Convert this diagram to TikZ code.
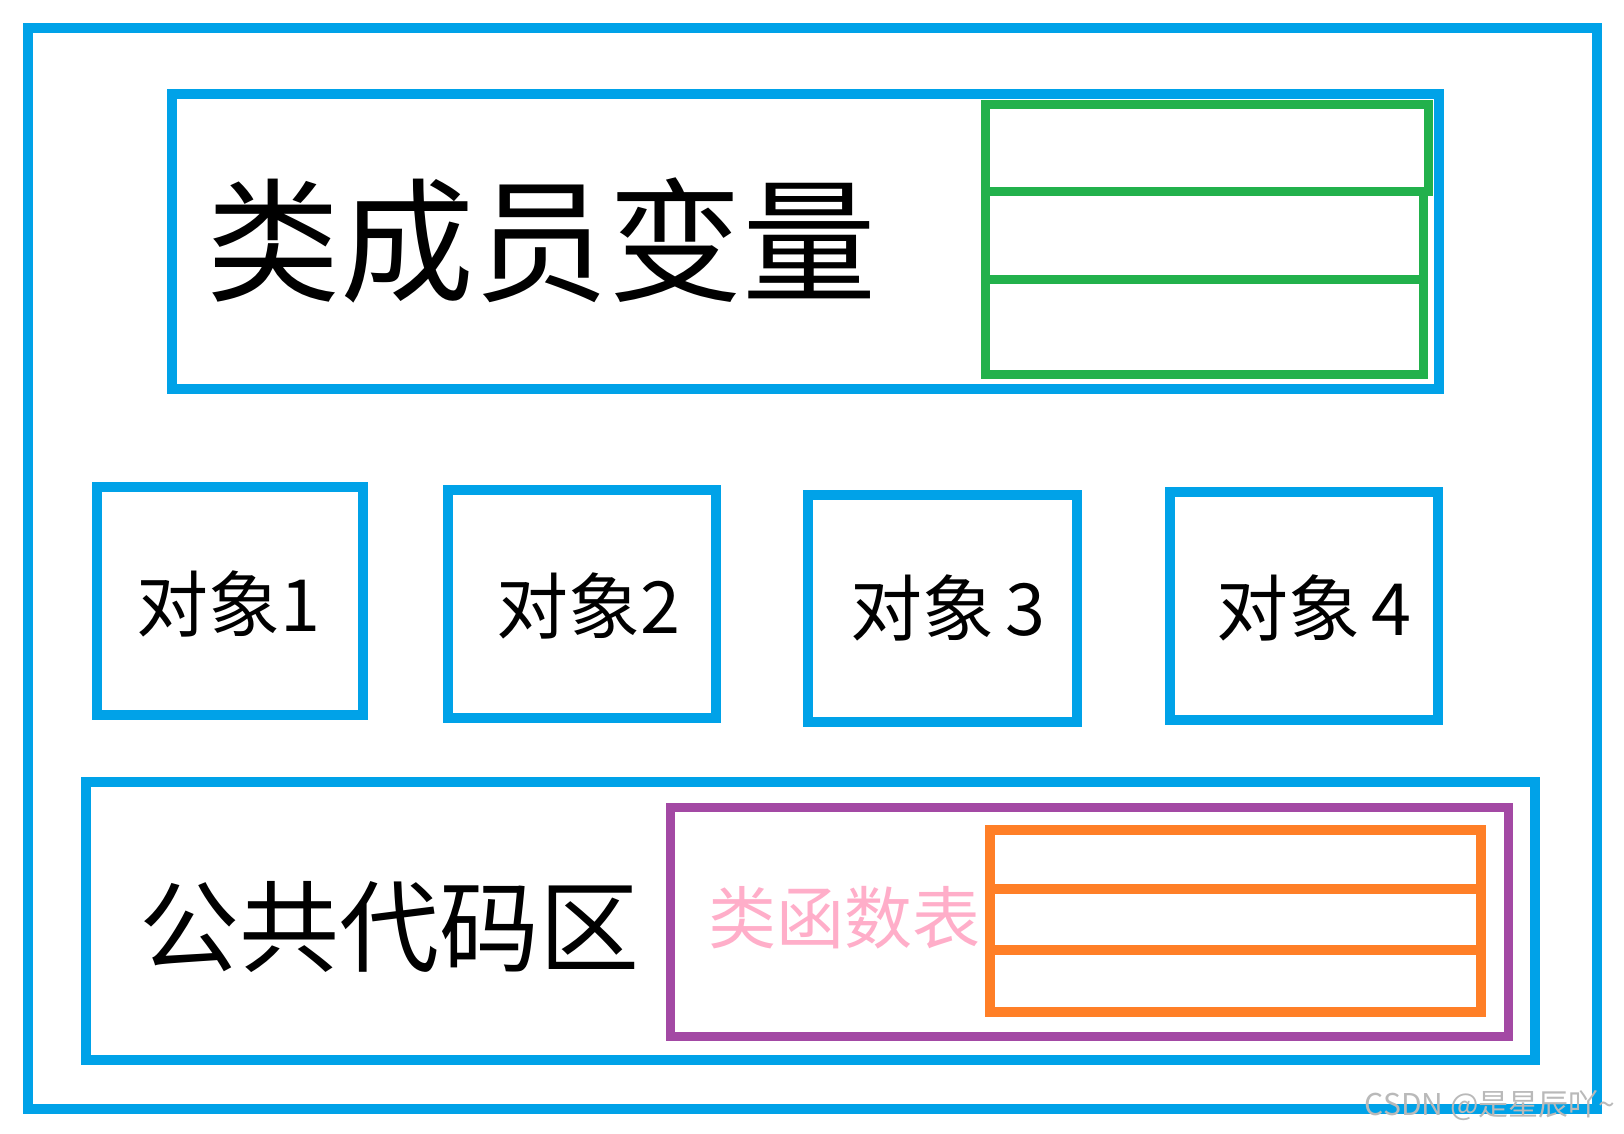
\documentclass[tikz,border=0pt]{standalone}
\usepackage{fontspec}
\setmainfont{Noto Sans CJK SC}
\usepackage{tikz}
\definecolor{pblue}{HTML}{00A2E8}
\definecolor{pgreen}{HTML}{22B14C}
\definecolor{ppurple}{HTML}{A349A4}
\definecolor{porange}{HTML}{FF7F27}
\definecolor{ppink}{HTML}{FFAEC9}

\begin{document}
\begin{tikzpicture}[x=1pt, y=-1pt,
    bluebox/.style={draw=pblue, line width=10pt},
    greenbox/.style={draw=pgreen, line width=9pt},
    purplebox/.style={draw=ppurple, line width=9pt},
    orangebox/.style={draw=porange, line width=9.5pt},
    bigtext/.style={font=\fontsize{134}{140}\selectfont, inner sep=0pt},
    codetext/.style={font=\fontsize{100}{110}\selectfont, inner sep=0pt},
    objtext/.style={font=\fontsize{72}{80}\selectfont, inner sep=0pt}]
    \useasboundingbox[fill=white] (0,0) rectangle (1624,1134);

    % outer frame
    \draw[bluebox] (28,28) rectangle (1597,1109);

    % member variables
    \draw[bluebox] (172,94) rectangle (1439,389);
    \draw[greenbox] (985,105) rectangle (1428,192);
    \draw[greenbox] (985,192) rectangle (1423,279);
    \draw[greenbox] (985,279) rectangle (1423,374);
    \node[bigtext] (member) at (541,240) {类成员变量};

    % objects
    \draw[bluebox] (97,487) rectangle (363,715);
    \draw[bluebox] (448,490) rectangle (716,718);
    \draw[bluebox] (808,495) rectangle (1077,722);
    \draw[bluebox] (1170,492) rectangle (1438,720);
    \node[objtext] (obj1) at (228,604) {对象1};
    \node[objtext] (obj2) at (588,606) {对象2};
    \node[objtext] (obj3) at (948,608) {对象\,3};
    \node[objtext] (obj4) at (1314,608) {对象\,4};

    % common code area
    \draw[bluebox] (86,782) rectangle (1535,1060);
    \draw[purplebox] (670,807) rectangle (1508,1036);
    \draw[orangebox] (990,830) rectangle (1481,889);
    \draw[orangebox] (990,889) rectangle (1481,950);
    \draw[orangebox] (990,950) rectangle (1481,1012);
    \node[codetext] (code) at (389,927) {公共代码区};
    \node[objtext, text=ppink, font=\fontsize{68}{76}\selectfont] (vtable) at (844,918) {类函数表};

    \node[text=gray!55, font=\fontsize{30}{34}\selectfont, inner sep=0pt] (mark) at (1490,1106) {CSDN @是星辰吖\textasciitilde};
\end{tikzpicture}
\end{document}
